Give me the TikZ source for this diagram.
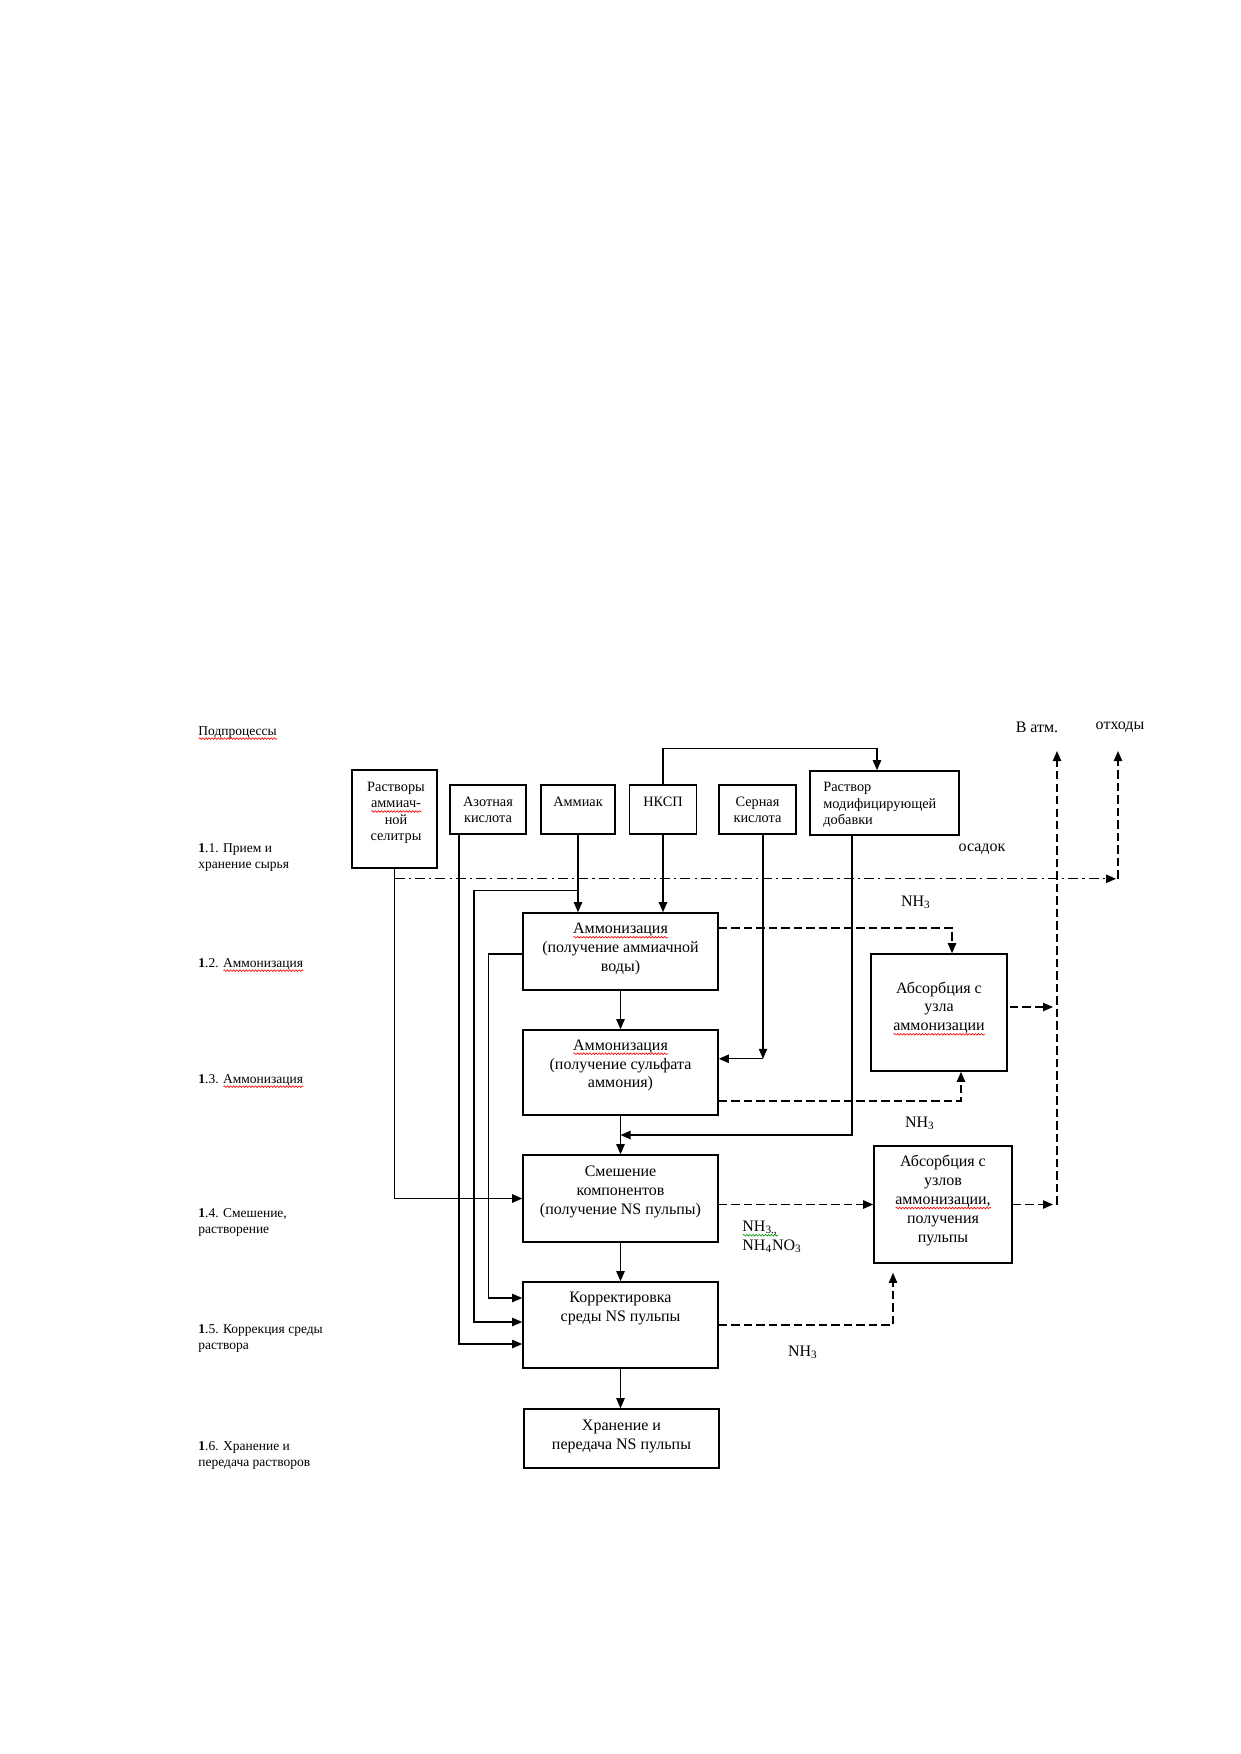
\documentclass[tikz,border=0pt]{standalone}
\usepackage{fontspec}
\setmainfont{Liberation Serif}
\usetikzlibrary{arrows.meta,calc,decorations.pathmorphing}
\newcommand\wv[2][red]{\leavevmode\setbox0\hbox{#2}\rlap{\tikz[baseline=0pt]\draw[#1,line width=0.3pt,decorate,decoration={snake,segment length=1.5pt,amplitude=0.4pt}] (0pt,-1.7pt) -- (\the\wd0,-1.7pt);}\box0}
\begin{document}
\begin{tikzpicture}[x=0.48bp,y=-0.48bp,
  box/.style={draw,line width=0.75pt,inner sep=0pt,rectangle},
  mtxt/.style={align=center,inner sep=0pt,font=\fontsize{7.7}{9.1}\selectfont},
  ttxt/.style={align=center,inner sep=0pt,font=\fontsize{6.9}{7.9}\selectfont},
  ltxt/.style={align=left,anchor=west,inner sep=0pt,font=\fontsize{6.5}{7.7}\selectfont},
  arr/.style={line width=0.65pt,-{Triangle[length=4.8bp,width=4bp]}},
  dsh/.style={line width=0.65pt,dash pattern=on 4bp off 2bp},
  ddot/.style={line width=0.65pt,dash pattern=on 4.8bp off 2bp on 1bp off 2bp},
]
\useasboundingbox[fill=white] (0,0) rectangle (1240,1754);

% top boxes
\node[box,minimum width=40.8bp,minimum height=47.04bp] (rastv) at (394.5,819) {};
\node[ttxt] (rastvt) at (396,813) {Растворы\\\wv{аммиач-}\\ной\\селитры};
\node[box,minimum width=36.48bp,minimum height=23.52bp] (azot) at (488,809.5) {};
\node[ttxt] (azott) at (488,810) {Азотная\\кислота};
\node[box,minimum width=35.52bp,minimum height=23.52bp] (ammiak) at (578,809.5) {};
\node[ttxt] (ammiakt) at (578,802) {Аммиак};
\node[box,minimum width=32.16bp,minimum height=23.52bp] (nksp) at (663,809.5) {};
\node[ttxt] (nkspt) at (663,802) {НКСП};
\node[box,minimum width=36.96bp,minimum height=23.52bp] (sern) at (757.5,809.5) {};
\node[ttxt] (sernt) at (757.5,810) {Серная\\кислота};
\node[box,minimum width=71.52bp,minimum height=30.72bp] (rastvor) at (884.5,803) {};
\node[ttxt,align=left,anchor=west] (rastvort) at (823,805) {Раствор\\модифицирующей\\добавки};

% process boxes
\node[box,minimum width=93.6bp,minimum height=36.96bp] (b1) at (620.5,951.5) {};
\node[mtxt] (b1t) at (620.5,949) {\wv{Аммонизация}\\(получение аммиачной\\воды)};
\node[box,minimum width=93.6bp,minimum height=40.8bp] (b2) at (620.5,1072.5) {};
\node[mtxt] (b2t) at (620.5,1065.5) {\wv{Аммонизация}\\(получение сульфата\\аммония)};
\node[box,minimum width=93.6bp,minimum height=41.76bp] (b3) at (620.5,1198.5) {};
\node[mtxt] (b3t) at (620.5,1192) {Смешение\\компонентов\\(получение NS пульпы)};
\node[box,minimum width=93.6bp,minimum height=41.28bp] (b4) at (620.5,1325) {};
\node[mtxt] (b4t) at (620.5,1308.5) {Корректировка\\среды NS пульпы};
\node[box,minimum width=93.6bp,minimum height=28.32bp] (b5) at (621.5,1438.5) {};
\node[mtxt] (b5t) at (621.5,1436.5) {Хранение и\\передача NS пульпы};
\node[box,minimum width=65.28bp,minimum height=56.16bp] (abs1) at (939,1012.5) {};
\node[mtxt] (abs1t) at (939,1008.5) {Абсорбция с\\узла\\\wv{аммонизации}};
\node[box,minimum width=66.24bp,minimum height=56.16bp] (abs2) at (943,1204.5) {};
\node[mtxt] (abs2t) at (943,1200.5) {Абсорбция с\\узлов\\\wv{аммонизации,}\\получения\\пульпы};

% left labels
\node[ltxt] (lp) at (198,733) {\wv{Подпроцессы}};
\node[ltxt] (l1) at (198,857) {\textbf{1}.1. Прием и\\хранение сырья};
\node[ltxt] (l2) at (198,965) {\textbf{1}.2. \wv{Аммонизация}};
\node[ltxt] (l3) at (198,1081) {\textbf{1}.3. \wv{Аммонизация}};
\node[ltxt] (l4) at (198,1222) {\textbf{1}.4. Смешение,\\растворение};
\node[ltxt] (l5) at (198,1338.5) {\textbf{1}.5. Коррекция среды\\раствора};
\node[ltxt] (l6) at (198,1455) {\textbf{1}.6. Хранение и\\передача растворов};

% right labels
\node[mtxt] (vatm) at (1037,727) {В атм.};
\node[mtxt] (otx) at (1120,727) {отходы};
\node[mtxt] (osadok) at (982,849) {осадок};
\node[mtxt] (nh3a) at (916,902) {NH\textsubscript{3}};
\node[mtxt] (nh3b) at (920,1123) {NH\textsubscript{3}};
\node[mtxt,align=left,anchor=west] (nh3c) at (742,1237) {\wv[green!60!black]{NH\textsubscript{3.,}}\\NH\textsubscript{4}NO\textsubscript{3}};
\node[mtxt] (nh3d) at (803,1352) {NH\textsubscript{3}};

% helper coordinates
\coordinate (vx) at (1057,0);
\coordinate (atmtop) at (1057,751);
\coordinate (ottop) at (1118,751);
\coordinate (vbot) at (abs2.east -| vx);
\coordinate (a1e) at (abs1.east -| vx);
\coordinate (dd0) at ($(rastv.south)+(0,10)$);
\coordinate (ddend) at (ottop |- dd0);
\coordinate (j1) at ($(ammiak.south)+(0,56)$);
\coordinate (sc) at ($(sern.south)+(5.5,224)$);

% solid connectors
\draw[arr] (nksp.north) -- ++(0,-36) -| ($(rastvor.north)+(-7.5,0)$);
\draw[arr] (nksp.south) -- (nksp.south |- b1.north);
\draw[arr] (ammiak.south) -- (ammiak.south |- b1.north);
\draw[arr] (j1) -- ++(-104,0) |- ($(b4.west)+(0,-3)$);
\draw[arr] ($(azot.south)+(-29,0)$) |- ($(b4.west)+(0,19)$);
\draw[arr] ($(b1.west)+(0,2.5)$) -- ++(-34,0) |- ($(b4.west)+(0,-27)$);
\draw[arr] (rastv.south) |- (b3.west);
\draw[arr] (b1.south) -- (b2.north);
\draw[arr] (b2.south) -- (b3.north);
\draw[arr] (b3.south) -- (b4.north);
\draw[arr] (b4.south) -- (b4.south |- b5.north);
\draw[arr] ($(rastvor.south)+(-32.5,0)$) |- ($(b2.south)!0.5!(b3.north)$);
\draw[arr] ($(sern.south)+(5.5,0)$) -- (sc);
\draw[arr] (sc) -- (sc -| b2.east);

% dash-dot and dashed connectors
\draw[ddot,arr] (dd0) -- ($(ddend)+(-2,0)$);
\draw[dsh,arr] (ddend) -- (ottop);
\draw[dsh,arr] ($(b1.east)+(0,-23.5)$) -| ($(abs1.north)+(13,0)$);
\draw[dsh,arr] ($(b2.east)+(0,28.5)$) -| ($(abs1.south)+(22,0)$);
\draw[dsh,arr] ($(abs1.east)+(2,-5.5)$) -- ($(a1e)+(-4,-5.5)$);
\draw[dsh,arr] (b3.east |- abs2.west) -- (abs2.west);
\draw[dsh,arr] (abs2.east) -- ($(vbot)+(-4,0)$);
\draw[dsh,arr] (vbot) -- (atmtop);
\draw[dsh,arr] (b4.east) -| ($(abs2.south)+(-50,9)$);
\end{tikzpicture}
\end{document}
